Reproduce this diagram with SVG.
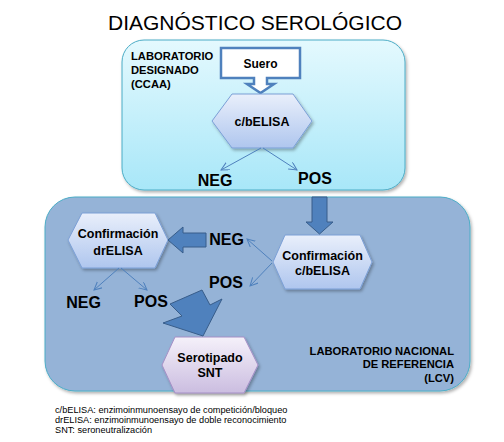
<svg xmlns="http://www.w3.org/2000/svg" width="504" height="442" viewBox="0 0 504 442">
<defs>
  <linearGradient id="gTop" x1="0" y1="0" x2="0" y2="1">
    <stop offset="0" stop-color="#e4f9fe"/>
    <stop offset="1" stop-color="#a8e7f8"/>
  </linearGradient>
  <linearGradient id="gHex" x1="0" y1="0" x2="0" y2="1">
    <stop offset="0" stop-color="#e9effb"/>
    <stop offset="1" stop-color="#afc6ee"/>
  </linearGradient>
  <linearGradient id="gPur" x1="0" y1="0" x2="0" y2="1">
    <stop offset="0" stop-color="#f5f1fa"/>
    <stop offset="1" stop-color="#cbbde0"/>
  </linearGradient>
  <filter id="sh" x="-10%" y="-10%" width="130%" height="130%">
    <feDropShadow dx="1.5" dy="2" stdDeviation="1.5" flood-color="#000" flood-opacity="0.3"/>
  </filter>
  <marker id="ah" markerWidth="10" markerHeight="10" refX="8" refY="4" orient="auto" markerUnits="userSpaceOnUse">
    <path d="M0,0 L8,4 L0,8" fill="none" stroke="#4f81bd" stroke-width="1"/>
  </marker>
</defs>
<style>
  .t{font-family:"Liberation Sans",Arial,sans-serif;fill:#000}
  .b{font-weight:bold}
  .hex{fill:url(#gHex);stroke:#7b9fd6;stroke-width:1;filter:url(#sh)}
  .pur{fill:url(#gPur);stroke:#a58fc6;stroke-width:1;filter:url(#sh)}
  .blk{fill:#4f81bd;stroke:#385d8a;stroke-width:1}
  .thin{fill:none;stroke:#4f81bd;stroke-width:1;marker-end:url(#ah)}
  .lbl{font-size:16px;font-weight:bold}
  .nd{font-size:12.5px;font-weight:bold}
  .lab{font-size:11.2px;font-weight:bold}
  .fn{font-size:9.2px}
</style>
<rect width="504" height="442" fill="#fff"/>

<text class="t" x="255" y="30" font-size="21" text-anchor="middle">DIAGNÓSTICO SEROLÓGICO</text>

<g id="lab-designado">
  <rect x="122" y="40" width="283" height="150" rx="22" fill="url(#gTop)" stroke="#4bacc6" stroke-width="1" filter="url(#sh)"/>
  <text class="t lab" x="131" y="60">LABORATORIO</text>
  <text class="t lab" x="131" y="74">DESIGNADO</text>
  <text class="t lab" x="131" y="88">(CCAA)</text>
</g>

<g id="lab-nacional">
  <rect x="45" y="197" width="425" height="194" rx="30" fill="#95b3d7" stroke="#4bacc6" stroke-width="1" filter="url(#sh)"/>
  <text class="t lab" x="454" y="355" text-anchor="end">LABORATORIO NACIONAL</text>
  <text class="t lab" x="454" y="368" text-anchor="end">DE REFERENCIA</text>
  <text class="t lab" x="454" y="382" text-anchor="end">(LCV)</text>
</g>

<g id="suero">
  <polygon points="221,48 300,48 300,78 267,78 267,84 274,84 260.5,93 247,84 254,84 254,78 221,78" fill="#fff" stroke="#4f81bd" stroke-width="2.5" stroke-linejoin="miter"/>
  <text class="t b" x="260.5" y="67.5" font-size="12" text-anchor="middle">Suero</text>
</g>

<g id="cbelisa">
  <polygon class="hex" points="212,121 232,94 293,94 312,121 293,148 232,148"/>
  <text class="t nd" x="262" y="125.5" text-anchor="middle">c/bELISA</text>
</g>

<g id="conf-cbelisa">
  <polygon class="hex" points="273,262 285,235 360,235 372,262 360,289 285,289"/>
  <text class="t nd" x="322.5" y="260" text-anchor="middle">Confirmación</text>
  <text class="t nd" x="322.5" y="275" text-anchor="middle">c/bELISA</text>
</g>

<g id="conf-drelisa">
  <polygon class="hex" points="68,240 82,213 155,213 168,240 155,268 82,268"/>
  <text class="t nd" x="118" y="238" text-anchor="middle">Confirmación</text>
  <text class="t nd" x="118" y="255" text-anchor="middle">drELISA</text>
</g>

<g id="serotipado">
  <polygon class="pur" points="162,365 175,337 244,337 258,365 244,393 175,393"/>
  <text class="t nd" x="210" y="362" text-anchor="middle">Serotipado</text>
  <text class="t nd" x="210" y="377" text-anchor="middle">SNT</text>
</g>

<g id="connectors">
  <line class="thin" x1="261" y1="148" x2="221" y2="170"/>
  <line class="thin" x1="263" y1="148" x2="297" y2="170"/>
  <polygon class="blk" points="312,197 327,197 327,222 333,222 319.5,234 306,222 312,222"/>
  <polygon class="blk" points="206,233 206,247 183,247 183,253 168,240 183,227 183,233"/>
  <line class="thin" x1="272" y1="261" x2="247" y2="239"/>
  <line class="thin" x1="272" y1="263" x2="250" y2="286"/>
  <line class="thin" x1="119" y1="268" x2="94" y2="290"/>
  <line class="thin" x1="121" y1="268" x2="147" y2="290"/>
  <polygon class="blk" points="170,304 202,290 210,305 222,299 203,336 163,323 182,316"/>
</g>

<g id="labels">
  <text class="t lbl" x="215" y="186" text-anchor="middle">NEG</text>
  <text class="t lbl" x="315" y="184" text-anchor="middle">POS</text>
  <text class="t lbl" x="226.5" y="245" text-anchor="middle">NEG</text>
  <text class="t lbl" x="226" y="288" text-anchor="middle">POS</text>
  <text class="t lbl" x="83.5" y="308" text-anchor="middle">NEG</text>
  <text class="t lbl" x="151" y="307" text-anchor="middle">POS</text>
</g>

<g id="footnotes">
  <text class="t fn" x="55" y="413">c/bELISA: enzimoinmunoensayo de competición/bloqueo</text>
  <text class="t fn" x="55" y="423">drELISA: enzimoinmunoensayo de doble reconocimiento</text>
  <text class="t fn" x="55" y="433">SNT: seroneutralización</text>
</g>
</svg>
